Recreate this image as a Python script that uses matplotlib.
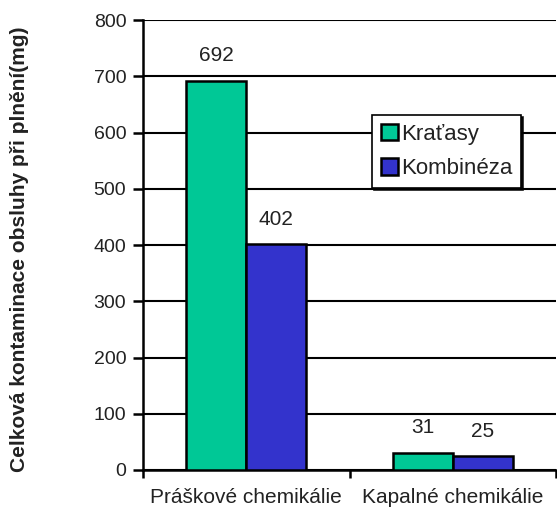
import numpy as np
import matplotlib.pyplot as plt

categories = ['Práškové chemikálie', 'Kapalné chemikálie']
series = ['Kraťasy', 'Kombinéza']
kratasy = [692, 31]
kombineza = [402, 25]
colors = ['#00C896', '#3333CC']

plt.rcParams['font.family'] = ['Liberation Sans', 'DejaVu Sans']

fig = plt.figure(figsize=(5.57, 5.09), dpi=100)
ax = fig.add_axes([143 / 557, 1 - 470 / 509, 413 / 557, 450 / 509])

x = np.arange(len(categories))
w = 0.29
vals = [kratasy, kombineza]
for i, (name, v, c) in enumerate(zip(series, vals, colors)):
    bars = ax.bar(x + (i - 0.5) * w, v, w, color=c, edgecolor='black',
                  linewidth=1.8, label=name, zorder=3)
    for b, val in zip(bars, v):
        ax.annotate(str(val), (b.get_x() + b.get_width() / 2, val),
                    xytext=(0, 11), textcoords='offset points',
                    ha='center', va='bottom', fontsize=15, color='#222222')

ax.set_xlim(-0.5, 1.5)
ax.set_ylim(0, 800)
ax.set_yticks(range(0, 801, 100))
ax.yaxis.grid(True, color='black', linewidth=1.5, zorder=0)
ax.set_xticks([-0.5, 0.5, 1.5])
ax.set_xticklabels([])
ax.set_xticks(x, minor=True)
ax.set_xticklabels(categories, minor=True, fontsize=15, color='#222222')
ax.tick_params(axis='x', which='minor', length=0, pad=13)
ax.tick_params(axis='x', which='major', length=6, width=1.8, direction='out')
ax.tick_params(axis='y', length=7, width=1.8, labelsize=14, pad=5,
               labelcolor='#222222')

for s in ['top', 'right']:
    ax.spines[s].set_visible(False)
ax.spines['left'].set_linewidth(1.8)
ax.spines['bottom'].set_linewidth(1.8)

ax.set_ylabel('Celková kontaminace obsluhy při plnění(mg)', fontsize=15,
              fontweight='bold', color='#222222')
ax.yaxis.set_label_coords(-114 / 413, 0.49)

leg = ax.legend(loc='upper left', bbox_to_anchor=(229 / 413, (470 - 115) / 450),
                fontsize=16, frameon=True, fancybox=False,
                shadow={'ox': 1.5, 'oy': -1.5, 'facecolor': 'black',
                        'edgecolor': 'black', 'alpha': 0.9},
                handlelength=0.75, handleheight=0.75, handletextpad=0.15,
                borderpad=0.4, labelspacing=0.6, borderaxespad=0)
leg.get_frame().set_edgecolor('black')
leg.get_frame().set_linewidth(1.2)
leg.get_frame().set_alpha(1)
for t in leg.get_texts():
    t.set_color('#222222')

fig.savefig('out.png', dpi=100)
